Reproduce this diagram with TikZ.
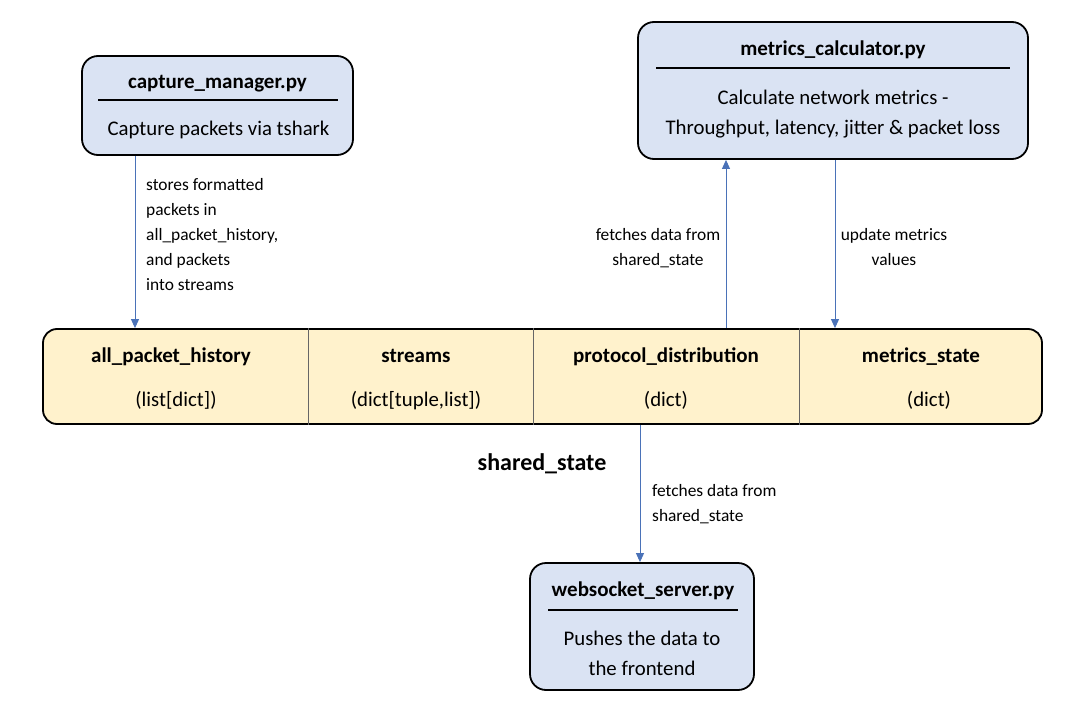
\documentclass[tikz,border=0pt]{standalone}
\usepackage{fontspec}
\setmainfont{Carlito}
\usetikzlibrary{arrows.meta}
\definecolor{boxblue}{HTML}{DAE3F3}
\definecolor{baryellow}{HTML}{FFF2CC}
\definecolor{arrblue}{HTML}{4A72B8}
\tikzset{
  module/.style={draw=black, line width=1.8pt, fill=boxblue, rounded corners=16pt, inner sep=0pt},
  bar/.style={draw=black, line width=1.8pt, fill=baryellow, rounded corners=14pt, inner sep=0pt},
  ttl/.style={font=\fontsize{21}{24}\selectfont\bfseries, inner sep=0pt, anchor=base},
  body/.style={font=\fontsize{20.8}{30}\selectfont, inner sep=0pt, align=center},
  lbl/.style={font=\fontsize{17.4}{25}\selectfont, inner sep=0pt},
  rule/.style={line width=1.6pt, black},
  divider/.style={line width=0.6pt, black!60},
  arr/.style={draw=arrblue, line width=0.9pt, -{Triangle[length=9pt,width=8pt]}},
}
\begin{document}
\begin{tikzpicture}[x=1pt,y=-1pt]
\useasboundingbox (0,0) rectangle (1080,712);

% capture_manager
\node[module, minimum width=271pt, minimum height=99pt] (cap) at (217.5,105.5) {};
\node[ttl] (capT) at (217.5,88) {capture\_manager.py};
\coordinate (capL1) at (98,100); \coordinate (capL2) at (338,100);
\draw[rule] (capL1) -- (capL2);
\node[body, anchor=base] (capB) at (218.5,135) {Capture packets via tshark};

% metrics_calculator
\node[module, minimum width=390pt, minimum height=137pt] (met) at (833,90.5) {};
\node[ttl] (metT) at (833,56) {metrics\_calculator.py};
\coordinate (metL1) at (656,68); \coordinate (metL2) at (1010,68);
\draw[rule] (metL1) -- (metL2);
\node[body, anchor=base] (metB1) at (833,104) {Calculate network metrics -};
\node[body, anchor=base] (metB2) at (833,134) {Throughput, latency, jitter \& packet loss};

% shared state bar
\node[bar, minimum width=999pt, minimum height=95pt] (bar) at (542.5,376.5) {};
\coordinate (d1) at (308,0); \coordinate (d2) at (533,0); \coordinate (d3) at (799,0);
\draw[divider] (bar.north -| d1) -- (bar.south -| d1);
\draw[divider] (bar.north -| d2) -- (bar.south -| d2);
\draw[divider] (bar.north -| d3) -- (bar.south -| d3);

\node[ttl] (c1T) at (171,362) {all\_packet\_history};
\node[body, anchor=base] (c1B) at (176,406) {(list[dict])};
\node[ttl] (c2T) at (416,362) {streams};
\node[body, anchor=base] (c2B) at (416,406) {(dict[tuple,list])};
\node[ttl] (c3T) at (666,362) {protocol\_distribution};
\node[body, anchor=base] (c3B) at (666,406) {(dict)};
\node[ttl] (c4T) at (921,362) {metrics\_state};
\node[body, anchor=base] (c4B) at (929,406) {(dict)};

\node[font=\fontsize{24}{28}\selectfont\bfseries, inner sep=0pt, anchor=base] (ssT) at (542,470) {shared\_state};

% websocket_server
\node[module, minimum width=224pt, minimum height=127pt] (ws) at (642,626.5) {};
\node[ttl] (wsT) at (643,596) {websocket\_server.py};
\coordinate (wsL1) at (548,610); \coordinate (wsL2) at (738,610);
\draw[rule] (wsL1) -- (wsL2);
\node[body, anchor=base] (wsB1) at (642,645) {Pushes the data to};
\node[body, anchor=base] (wsB2) at (642,675) {the frontend};

% connectors
\coordinate (x1) at (135,0);
\coordinate (x2) at (726,0);
\coordinate (x3) at (835,0);
\coordinate (x4) at (640,0);
\draw[arr] (cap.south -| x1) -- (bar.north -| x1);
\draw[arr] (bar.north -| x2) -- (met.south -| x2);
\draw[arr] (met.south -| x3) -- (bar.north -| x3);
\draw[arr] (bar.south -| x4) -- (ws.north -| x4);

% labels
\node[lbl, align=left, anchor=north west] (lab1) at (146,178) {stores formatted\\packets in\\all\_packet\_history,\\and packets\\into streams};
\node[lbl, align=center, anchor=north] (lab2) at (658,228) {fetches data from\\shared\_state};
\node[lbl, align=center, anchor=north] (lab3) at (894,228) {update metrics\\values};
\node[lbl, align=left, anchor=north west] (lab4) at (652,484) {fetches data from\\shared\_state};
\end{tikzpicture}
\end{document}
